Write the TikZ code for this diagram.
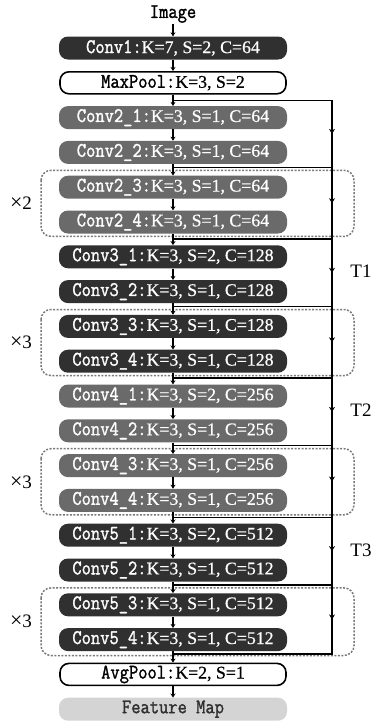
\documentclass[tikz,border=0pt]{standalone}
\usepackage{fontspec}
\usepackage{graphicx}
\setmainfont{Liberation Serif}
\newfontfamily\prf{Liberation Serif}[FakeBold=0.5]
\newfontfamily\monof{Latin Modern Mono}[FakeBold=1.5]
\usetikzlibrary{arrows.meta,decorations.markings}
\definecolor{dk}{HTML}{303030}
\definecolor{gy}{HTML}{6A6A6A}
\definecolor{lg}{HTML}{D4D4D4}
\definecolor{dsh}{HTML}{7A7A7A}
\newcommand\nm[1]{\scalebox{1}[1.15]{\fontsize{18}{20}\monof #1}}
\newcommand\pr[1]{{\fontsize{17.8}{20}\prf #1}}
\begin{document}
\begin{tikzpicture}[x=1pt,y=-1pt,
  blk/.style={rounded corners=9pt, minimum width=228pt, minimum height=23pt, inner sep=0pt, text=white},
  dark/.style={blk, fill=dk},
  grey/.style={blk, fill=gy},
  pool/.style={blk, fill=white, draw=black, line width=1.6pt, text=black, minimum width=226pt, minimum height=22pt},
  feat/.style={blk, fill=lg, text=dk},
  arr/.style={line width=1.2pt, -{Stealth[length=4pt,width=5pt]}},
  sc/.style={line width=1.5pt, postaction={decorate}, decoration={markings, mark=at position 0.5 with {\arrow{Stealth[length=5pt,width=6pt]}}}},
  dbox/.style={draw=dsh, line width=1.5pt, dash pattern=on 2pt off 1.5pt, rounded corners=10pt},
  lab/.style={font=\fontsize{19}{21}\selectfont, text=black, inner sep=0pt}
]
\useasboundingbox (0,0) rectangle (371,724);

% dashed repeat frames
\draw[dbox] (41,170.3) rectangle (354,236.4);
\draw[dbox] (41,309.5) rectangle (354,375.6);
\draw[dbox] (41,448.7) rectangle (354,514.8);
\draw[dbox] (41,587.9) rectangle (354,655.5);
\node[lab] (x2) at (21,203.4) {{\fontsize{22}{22}\selectfont ×}2};
\node[lab] (x3a) at (21,342.6) {{\fontsize{22}{22}\selectfont ×}3};
\node[lab] (x3b) at (21,481.8) {{\fontsize{22}{22}\selectfont ×}3};
\node[lab] (x3c) at (21,621.2) {{\fontsize{22}{22}\selectfont ×}3};

% nodes
\node[text=black, inner sep=1pt] (img) at (173,14) {\nm{Image}};
\node[dark] (c1)  at (173,48)    {\nm{Conv1:}\pr{K=7, S=2, C=64}};
\node[pool] (mp)  at (173,82.8)  {\nm{MaxPool:}\pr{K=3, S=2}};
\node[grey] (c21) at (173,117.6) {\nm{Conv2\_1:}\pr{K=3, S=1, C=64}};
\node[grey] (c22) at (173,152.4) {\nm{Conv2\_2:}\pr{K=3, S=1, C=64}};
\node[grey] (c23) at (173,187.2) {\nm{Conv2\_3:}\pr{K=3, S=1, C=64}};
\node[grey] (c24) at (173,222)   {\nm{Conv2\_4:}\pr{K=3, S=1, C=64}};
\node[dark] (c31) at (173,256.8) {\nm{Conv3\_1:}\pr{K=3, S=2, C=128}};
\node[dark] (c32) at (173,291.6) {\nm{Conv3\_2:}\pr{K=3, S=1, C=128}};
\node[dark] (c33) at (173,326.4) {\nm{Conv3\_3:}\pr{K=3, S=1, C=128}};
\node[dark] (c34) at (173,361.2) {\nm{Conv3\_4:}\pr{K=3, S=1, C=128}};
\node[grey] (c41) at (173,396)   {\nm{Conv4\_1:}\pr{K=3, S=2, C=256}};
\node[grey] (c42) at (173,430.8) {\nm{Conv4\_2:}\pr{K=3, S=1, C=256}};
\node[grey] (c43) at (173,465.6) {\nm{Conv4\_3:}\pr{K=3, S=1, C=256}};
\node[grey] (c44) at (173,500.4) {\nm{Conv4\_4:}\pr{K=3, S=1, C=256}};
\node[dark] (c51) at (173,535.2) {\nm{Conv5\_1:}\pr{K=3, S=2, C=512}};
\node[dark] (c52) at (173,570)   {\nm{Conv5\_2:}\pr{K=3, S=1, C=512}};
\node[dark] (c53) at (173,604.8) {\nm{Conv5\_3:}\pr{K=3, S=1, C=512}};
\node[dark] (c54) at (173,639.6) {\nm{Conv5\_4:}\pr{K=3, S=1, C=512}};
\node[pool] (ap)  at (173,674.4) {\nm{AvgPool:}\pr{K=2, S=1}};
\node[feat] (fm)  at (173,709.2) {\nm{Feature Map}};

% main chain
\foreach \a/\b in {img/c1,c1/mp,mp/c21,c21/c22,c22/c23,c23/c24,c24/c31,c31/c32,c32/c33,c33/c34,c34/c41,c41/c42,c42/c43,c43/c44,c44/c51,c51/c52,c52/c53,c53/c54,c54/ap,ap/fm}
  \draw[arr] (\a) -- (\b);

% shortcut junctions
\foreach \i/\y in {1/100.5,2/167.3,3/239,4/306.5,5/378.1,6/445.7,7/517.3,8/584.9,9/654}{
  \coordinate (j\i) at (173,\y);
  \coordinate (r\i) at (332,\y);
}
\foreach \a/\b in {1/2,2/3,3/4,4/5,5/6,6/7,7/8,8/9}
  \draw[sc] (j\a) -- (r\a) -- (r\b) -- (j\b);

\node[lab] (t1) at (361,271) {T1};
\node[lab] (t2) at (361,410.5) {T2};
\node[lab] (t3) at (361,550) {T3};
\end{tikzpicture}
\end{document}
